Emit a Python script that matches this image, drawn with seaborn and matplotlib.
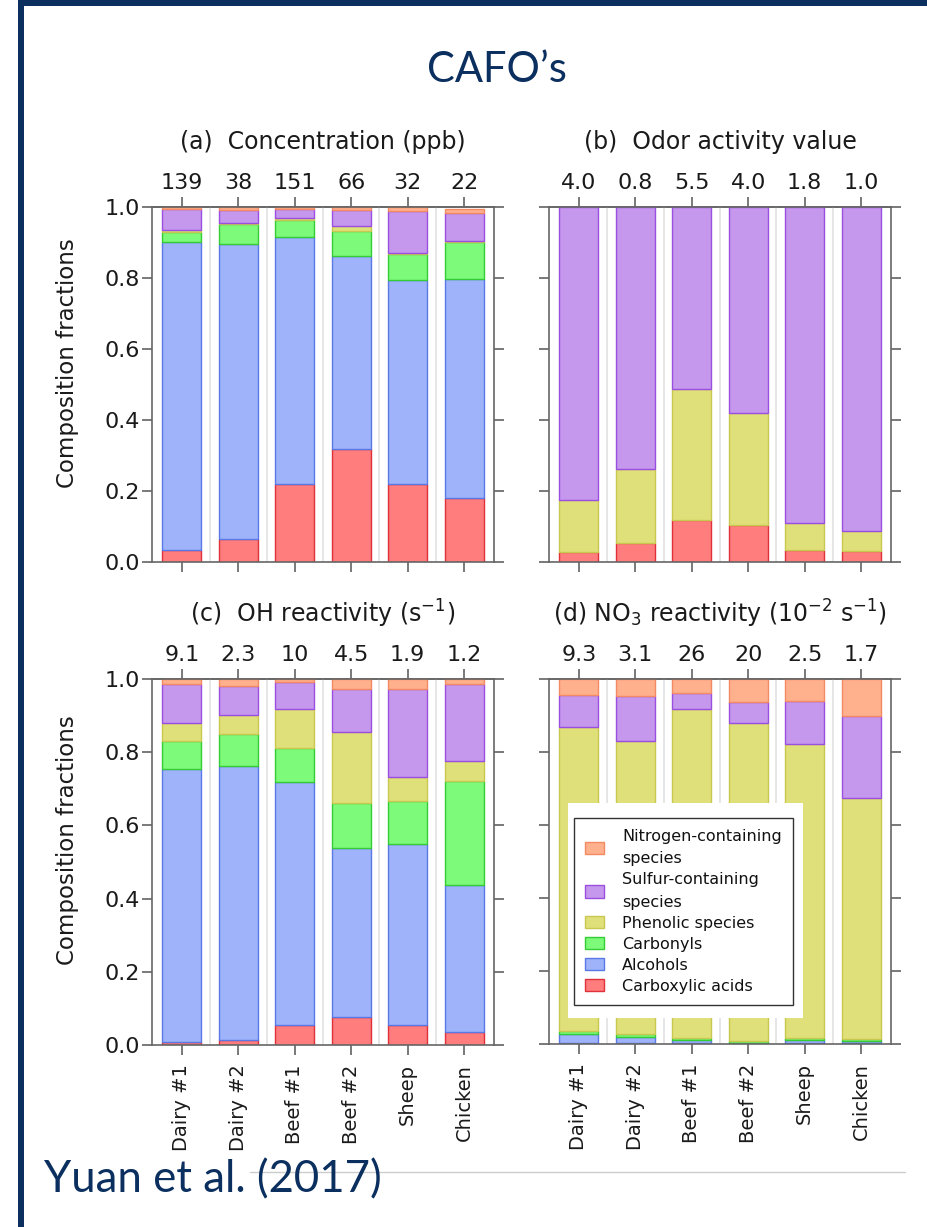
import numpy as np
import matplotlib
matplotlib.use("Agg")
import matplotlib.pyplot as plt
import matplotlib.patches as mpatches
from matplotlib.lines import Line2D
import seaborn as sns

# ---------------------------------------------------------------- data
sites = ["Dairy #1", "Dairy #2", "Beef #1", "Beef #2", "Sheep", "Chicken"]

# compound classes, stacked bottom -> top
classes = ["Carboxylic acids", "Alcohols", "Carbonyls", "Phenolic species",
           "Sulfur-containing\nspecies", "Nitrogen-containing\nspecies"]

# (a) concentration fractions
carboxylic_a = [0.035, 0.065, 0.219, 0.318, 0.221, 0.179]
alcohols_a   = [0.865, 0.831, 0.696, 0.545, 0.572, 0.618]
carbonyls_a  = [0.030, 0.057, 0.047, 0.070, 0.075, 0.105]
phenolic_a   = [0.004, 0.003, 0.006, 0.014, 0.002, 0.002]
sulfur_a     = [0.061, 0.036, 0.026, 0.045, 0.120, 0.079]
nitrogen_a   = [0.005, 0.008, 0.006, 0.008, 0.010, 0.011]
totals_a = ["139", "38", "151", "66", "32", "22"]

# (b) odor activity value fractions
carboxylic_b = [0.028, 0.054, 0.118, 0.104, 0.033, 0.031]
alcohols_b   = [0.0, 0.0, 0.0, 0.0, 0.0, 0.0]
carbonyls_b  = [0.0, 0.0, 0.0, 0.0, 0.0, 0.0]
phenolic_b   = [0.148, 0.207, 0.368, 0.316, 0.078, 0.057]
sulfur_b     = [0.824, 0.739, 0.514, 0.580, 0.889, 0.912]
nitrogen_b   = [0.0, 0.0, 0.0, 0.0, 0.0, 0.0]
totals_b = ["4.0", "0.8", "5.5", "4.0", "1.8", "1.0"]

# (c) OH reactivity fractions
carboxylic_c = [0.009, 0.015, 0.055, 0.076, 0.055, 0.036]
alcohols_c   = [0.746, 0.746, 0.663, 0.461, 0.495, 0.400]
carbonyls_c  = [0.076, 0.090, 0.093, 0.124, 0.116, 0.286]
phenolic_c   = [0.049, 0.050, 0.107, 0.193, 0.065, 0.053]
sulfur_c     = [0.105, 0.081, 0.073, 0.120, 0.243, 0.210]
nitrogen_c   = [0.015, 0.018, 0.009, 0.026, 0.026, 0.015]
totals_c = ["9.1", "2.3", "10", "4.5", "1.9", "1.2"]

# (d) NO3 reactivity fractions
carboxylic_d = [0.003, 0.003, 0.003, 0.003, 0.003, 0.003]
alcohols_d   = [0.024, 0.017, 0.009, 0.001, 0.009, 0.005]
carbonyls_d  = [0.009, 0.007, 0.004, 0.003, 0.004, 0.005]
phenolic_d   = [0.832, 0.804, 0.902, 0.873, 0.806, 0.660]
sulfur_d     = [0.089, 0.123, 0.045, 0.057, 0.117, 0.225]
nitrogen_d   = [0.043, 0.046, 0.037, 0.063, 0.061, 0.102]
totals_d = ["9.3", "3.1", "26", "20", "2.5", "1.7"]

yticks = [0.0, 0.2, 0.4, 0.6, 0.8, 1.0]

# ---------------------------------------------------------------- style
fills = ["#FF7D7D", "#9EB3FA", "#7DFA7A", "#E0E07A", "#C598EE", "#FFB08C"]
edges = ["#E0303A", "#5A78E6", "#35CC35", "#C8C850", "#9A4FE0", "#F28A64"]
navy = "#0B2F5E"
spine_col = "#666666"

sns.set_theme(style="white")
plt.rcParams["font.family"] = ["DejaVu Sans"]
plt.rcParams["text.color"] = "#1a1a1a"

W, H = 927, 1227
fig = plt.figure(figsize=(W / 100, H / 100), dpi=100)
fig.patch.set_facecolor("white")


def add_axes_px(left, top, right, bottom):
    return fig.add_axes([left / W, 1 - bottom / H, (right - left) / W, (bottom - top) / H])


def draw_panel(ax, layers, totals, title, h_px, show_ylabels, show_names):
    bottom = np.zeros(len(sites))
    for vals, fc, ec in zip(layers, fills, edges):
        vals = np.asarray(vals, dtype=float)
        n0 = len(ax.patches)
        sns.barplot(x=sites, y=vals, order=sites, ax=ax, color=fc, saturation=1,
                    width=0.69, bottom=bottom, edgecolor=ec, linewidth=1.0,
                    errorbar=None, zorder=2)
        for p, v in zip(ax.patches[n0:], vals):
            if v <= 0:
                p.set_visible(False)
        bottom = bottom + vals

    for xb in np.arange(0.5, len(sites) - 1, 1.0):
        ax.axvline(xb, color="#e2e2e2", lw=1.2, zorder=0.5)

    ax.set_xlim(-0.53, len(sites) - 0.47)
    ax.set_ylim(0, 1.0)
    ax.set_yticks(yticks)
    ax.set_yticklabels([f"{t:.1f}" for t in yticks])
    ax.set_xticks(range(len(sites)))
    ax.set_xticklabels(sites if show_names else [""] * len(sites), rotation=90)
    ax.set_xlabel("")
    ax.set_ylabel("")

    for s in ax.spines.values():
        s.set_visible(True)
        s.set_color(spine_col)
        s.set_linewidth(1.2)

    ax.tick_params(axis="y", direction="out", length=7, width=1.1, color="#555555",
                   left=True, right=True, labelleft=show_ylabels, labelright=False,
                   labelsize=16, pad=2, labelcolor="#1a1a1a")
    ax.tick_params(axis="x", direction="out", length=7, width=1.1, color="#555555",
                   bottom=True, top=False, labelbottom=show_names, labelsize=14, pad=7,
                   labelcolor="#1a1a1a")

    sec = ax.secondary_xaxis("top")
    sec.set_xticks(range(len(sites)))
    sec.set_xticklabels(totals)
    sec.tick_params(direction="out", length=7, width=1.1, color="#555555",
                    labelsize=16, pad=3, labelcolor="#1a1a1a")
    sec.spines["top"].set_color(spine_col)
    sec.spines["top"].set_linewidth(1.2)

    ax.text(0.5, 1 + 65 / h_px, title, transform=ax.transAxes, ha="center",
            va="center", fontsize=17)

    if show_ylabels:
        ax.set_ylabel("Composition fractions", fontsize=16.5, color="#1a1a1a")
        ax.yaxis.set_label_coords(-(152 - 79) / 342, 0.56)


ax_a = add_axes_px(152, 207, 494, 562)
ax_b = add_axes_px(549, 207, 891, 562)
ax_c = add_axes_px(152, 679, 494, 1045)
ax_d = add_axes_px(549, 679, 891, 1044)

draw_panel(ax_a, [carboxylic_a, alcohols_a, carbonyls_a, phenolic_a, sulfur_a, nitrogen_a],
           totals_a, "(a)  Concentration (ppb)", 355, True, False)
draw_panel(ax_b, [carboxylic_b, alcohols_b, carbonyls_b, phenolic_b, sulfur_b, nitrogen_b],
           totals_b, "(b)  Odor activity value", 355, False, False)
draw_panel(ax_c, [carboxylic_c, alcohols_c, carbonyls_c, phenolic_c, sulfur_c, nitrogen_c],
           totals_c, r"(c)  OH reactivity (s$^{-1}$)", 366, True, True)
draw_panel(ax_d, [carboxylic_d, alcohols_d, carbonyls_d, phenolic_d, sulfur_d, nitrogen_d],
           totals_d, r"(d) NO$_3$ reactivity (10$^{-2}$ s$^{-1}$)", 365, False, True)

# legend on a white card inside panel (d)
fig.add_artist(mpatches.Rectangle((568 / W, 1 - 1018 / H), (803 - 568) / W, (1018 - 803) / H,
                                  transform=fig.transFigure, facecolor="white",
                                  edgecolor="none", zorder=4))
handles = [mpatches.Patch(facecolor=fc, edgecolor=ec, linewidth=1.0)
           for fc, ec in zip(fills, edges)][::-1]
leg = fig.legend(handles, classes[::-1], loc="upper left",
                 bbox_to_anchor=(574 / W, 1 - 818 / H), bbox_transform=fig.transFigure,
                 fontsize=11.5, handlelength=1.2, handleheight=0.8, handletextpad=1.1,
                 labelspacing=0.38, borderpad=0.7, borderaxespad=0, fancybox=False,
                 frameon=True, edgecolor="#333333", framealpha=1)
leg.get_frame().set_linewidth(1.0)
for t in leg.get_texts():
    t.set_linespacing(1.6)
    t.set_color("#111111")
leg.set_zorder(5)

# slide frame and captions
fig.add_artist(mpatches.Rectangle((18 / W, 0), 6 / W, 1, transform=fig.transFigure,
                                  facecolor=navy, edgecolor="none", zorder=6))
fig.add_artist(mpatches.Rectangle((18 / W, 1 - 6 / H), 1 - 18 / W, 6 / H,
                                  transform=fig.transFigure, facecolor=navy,
                                  edgecolor="none", zorder=6))
fig.add_artist(Line2D([250 / W, 905 / W], [1 - 1172 / H, 1 - 1172 / H],
                      transform=fig.transFigure, color="#cccccc", lw=1.0, zorder=1))
fig.text(497 / W, 1 - 70 / H, "CAFO\u2019s", ha="center", va="center", fontsize=30,
         color=navy, family=["Lato", "DejaVu Sans"])
fig.text(44 / W, 1 - 1180 / H, "Yuan et al. (2017)", ha="left", va="center", fontsize=31.5,
         color=navy, family=["Lato", "DejaVu Sans"], zorder=7)

fig.savefig("out.png", dpi=100, facecolor="white")
